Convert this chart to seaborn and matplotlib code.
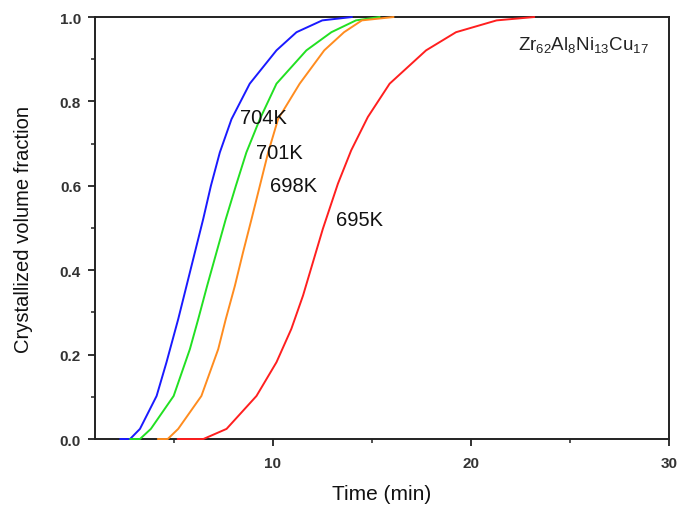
import matplotlib
matplotlib.use("Agg")
import matplotlib.pyplot as plt
from matplotlib.ticker import MultipleLocator, FormatStrFormatter
import seaborn as sns
import pandas as pd

sns.set_theme(style="white")
plt.rcParams['font.family'] = ['Liberation Sans', 'DejaVu Sans']
plt.rcParams['mathtext.fontset'] = 'custom'
plt.rcParams['mathtext.rm'] = 'Liberation Sans'
plt.rcParams['mathtext.it'] = 'Liberation Sans'

t_704 = [2.3, 2.8, 3.3, 4.14, 4.64, 5.23, 5.65, 6.07, 6.49, 6.88, 7.33, 7.92,
         8.84, 10.19, 11.2, 12.5, 14.0]
f_704 = [0, 0, 0.024, 0.102, 0.182, 0.284, 0.363, 0.442, 0.521, 0.600, 0.679,
         0.758, 0.842, 0.921, 0.964, 0.992, 1.0]
t_701 = [2.8, 3.3, 3.85, 5.0, 5.82, 6.24, 6.69, 7.16, 7.63, 8.14, 8.67, 9.35,
         10.19, 11.7, 12.96, 14.2, 15.4]
f_701 = [0, 0, 0.024, 0.102, 0.213, 0.284, 0.363, 0.442, 0.521, 0.600, 0.679,
         0.758, 0.842, 0.921, 0.964, 0.992, 1.0]
t_698 = [4.2, 4.7, 5.23, 6.4, 7.25, 7.63, 8.09, 8.50, 8.93, 9.35, 9.77, 10.27,
         11.36, 12.6, 13.6, 14.5, 16.1]
f_698 = [0, 0, 0.024, 0.102, 0.213, 0.284, 0.363, 0.442, 0.521, 0.600, 0.679,
         0.758, 0.842, 0.921, 0.964, 0.992, 1.0]
t_695 = [5.2, 6.5, 7.67, 9.18, 10.19, 10.94, 11.53, 12.03, 12.53, 13.29, 13.96,
         14.8, 15.9, 17.74, 19.25, 21.3, 23.2]
f_695 = [0, 0, 0.024, 0.102, 0.182, 0.261, 0.340, 0.419, 0.498, 0.605, 0.684,
         0.763, 0.842, 0.921, 0.964, 0.992, 1.0]
temps = ["704K", "701K", "698K", "695K"]
colors = ["#1a1aff", "#22e022", "#ff8c1f", "#ff1f1f"]
label_pos = [(8.35, 0.763), (9.15, 0.68), (9.85, 0.60), (13.2, 0.52)]

rows = []
for temp, ts, fs in zip(temps, [t_704, t_701, t_698, t_695],
                        [f_704, f_701, f_698, f_695]):
    for t, f in zip(ts, fs):
        rows.append({"Time": t, "Fraction": f, "Temp": temp})
df = pd.DataFrame(rows)

fig = plt.figure(figsize=(6.77, 5.06), dpi=100)
ax = fig.add_axes([0.1403, 0.1304, 0.8479, 0.834])
sns.lineplot(data=df, x="Time", y="Fraction", hue="Temp", hue_order=temps,
             palette=colors, estimator=None, sort=False, linewidth=1.4,
             legend=False, ax=ax, zorder=3, clip_on=False)

for temp, (x, y) in zip(temps, label_pos):
    ax.text(x, y, temp, fontsize=14.5, ha="left", va="center", color="#111111")
ax.text(0.737, 0.935, r"Zr$_{62}$Al$_{8}$Ni$_{13}$Cu$_{17}$", transform=ax.transAxes,
        fontsize=13.5, ha="left", va="center", color="#222222")

ax.set_xlim(1.03, 30)
ax.set_ylim(0, 1.0)
ax.xaxis.set_major_locator(MultipleLocator(10))
ax.xaxis.set_minor_locator(MultipleLocator(5))
ax.yaxis.set_major_locator(MultipleLocator(0.2))
ax.yaxis.set_minor_locator(MultipleLocator(0.1))
ax.yaxis.set_major_formatter(FormatStrFormatter('%.1f'))
ax.tick_params(axis='x', which='major', pad=7.5)
ax.tick_params(axis='y', which='major', pad=5)
ax.tick_params(axis='both', which='major', direction='out', length=5, width=1.3,
               labelsize=11, colors='#222222', left=True, bottom=True)
ax.tick_params(axis='both', which='minor', direction='out', length=3, width=1.1,
               left=True, bottom=True, colors='#222222')
for lbl in ax.get_xticklabels() + ax.get_yticklabels():
    lbl.set_fontweight('semibold')
    lbl.set_color('#333333')
for s in ax.spines.values():
    s.set_linewidth(1.4)
    s.set_color('#222222')
    s.set_visible(True)
ax.set_xlabel("Time (min)", fontsize=15, color="#111111", labelpad=10)
ax.set_ylabel("Crystallized volume fraction", fontsize=14.5, color="#111111",
              labelpad=19)
ax.grid(False)
fig.savefig("out.png", dpi=100)
